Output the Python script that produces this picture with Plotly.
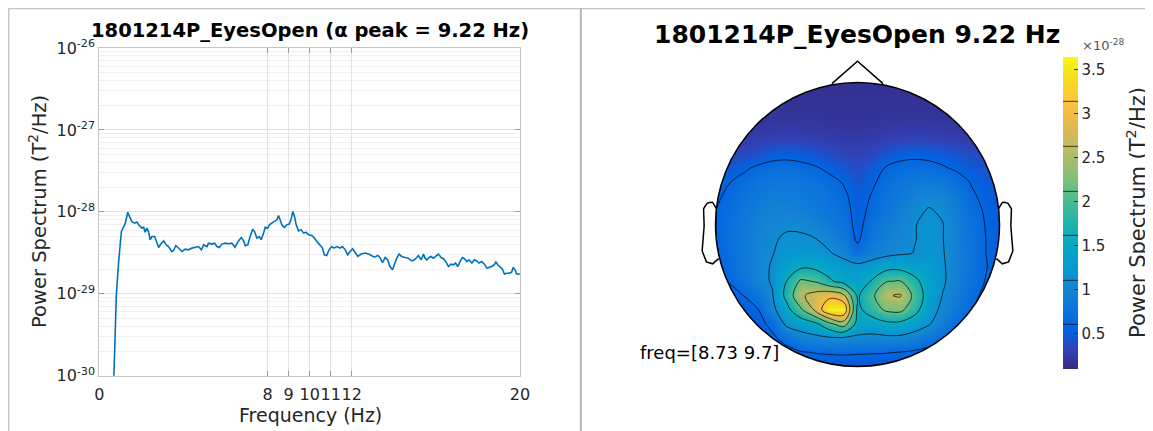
import numpy as np
import plotly.graph_objects as go

# ---------------- data: power spectrum (left panel) ----------------
freq_hz = [0.66, 0.81, 0.92, 1.05, 1.16, 1.24, 1.35, 1.47, 1.55, 1.68, 1.79, 1.87, 2.03, 2.11, 2.18,
           2.26, 2.34, 2.42, 2.50, 2.63, 2.74, 2.82, 2.95, 3.06, 3.18, 3.29, 3.45, 3.53, 3.64, 3.77,
           3.93, 4.09, 4.24, 4.40, 4.56, 4.72, 4.85, 4.96, 5.12, 5.19, 5.35, 5.48, 5.59, 5.70, 5.83,
           5.99, 6.14, 6.30, 6.45, 6.60, 6.75, 6.86, 6.94, 7.06, 7.17, 7.29, 7.38, 7.49, 7.60, 7.70,
           7.81, 7.89, 8.00, 8.09, 8.20, 8.33, 8.44, 8.52, 8.60, 8.68, 8.80, 8.91, 9.03, 9.11, 9.20,
           9.28, 9.36, 9.47, 9.60, 9.71, 9.82, 9.95, 10.10, 10.23, 10.34, 10.50, 10.61, 10.70, 10.81,
           10.92, 11.05, 11.16, 11.29, 11.45, 11.56, 11.69, 11.81, 11.92, 12.04, 12.13, 12.29, 12.45,
           12.64, 12.80, 12.96, 13.08, 13.24, 13.35, 13.46, 13.59, 13.71, 13.82, 13.94, 14.03, 14.14,
           14.25, 14.38, 14.54, 14.69, 14.85, 14.98, 15.09, 15.17, 15.30, 15.41, 15.49, 15.57, 15.68,
           15.77, 15.88, 16.00, 16.12, 16.25, 16.36, 16.47, 16.60, 16.72, 16.83, 16.94, 17.04, 17.15,
           17.26, 17.36, 17.47, 17.58, 17.71, 17.83, 17.94, 18.05, 18.18, 18.31, 18.42, 18.53, 18.65,
           18.78, 18.85, 18.94, 19.05, 19.16, 19.26, 19.37, 19.48, 19.60, 19.68, 19.76, 19.84, 19.92,
           20.00]
# power in units of 1e-29 T^2/Hz
psd_e29 = [0.05, 0.97, 2.47, 5.75, 6.62, 7.27, 9.9, 8.5, 7.6, 7.27, 7.49, 6.94, 6.32, 6.5, 5.65,
           6.32, 5.75, 4.56, 5.0, 5.0, 4.15, 3.67, 4.15, 4.43, 3.96, 3.77, 3.28, 3.35, 3.88, 3.61,
           3.28, 3.50, 3.44, 3.61, 3.67, 3.77, 3.44, 3.96, 3.77, 4.15, 4.04, 4.15, 3.77, 3.67, 4.04,
           4.15, 4.08, 4.15, 3.70, 4.36, 4.85, 4.45, 3.85, 3.96, 5.0, 6.15, 5.75, 4.78, 5.0, 4.56,
           5.5, 6.5, 6.32, 6.94, 7.27, 7.6, 7.99, 9.0, 7.6, 6.94, 6.44, 6.94, 7.1, 7.99, 10.1,
           8.77, 6.94, 5.86, 6.03, 5.5, 5.65, 5.24, 5.15, 4.78, 4.36, 3.96, 3.61, 2.98, 2.93,
           3.44, 3.77, 3.61, 3.77, 3.61, 3.77, 3.44, 2.98, 3.28, 3.54, 3.28, 2.86, 3.05,
           3.14, 3.05, 2.93, 2.80, 2.93, 2.75, 2.40, 2.77, 2.60, 2.15, 1.96, 2.26, 2.72,
           3.05, 2.85, 2.77, 2.72, 2.52, 2.60, 2.77, 2.93, 2.60, 3.05, 2.72, 2.60, 2.77,
           2.85, 2.72, 2.85, 3.05, 2.77, 2.68, 2.47, 2.15, 2.30, 2.26, 2.37, 2.15, 2.47,
           2.77, 2.68, 2.47, 2.60, 2.37, 2.60, 2.52, 2.37, 2.47, 2.30, 2.06, 2.10, 2.15,
           2.26, 2.47, 2.26, 2.10, 2.01, 1.74, 1.78, 1.78, 1.83, 2.10, 1.96, 1.74, 1.74,
           1.74]

x_tick_vals = [0, 8, 9, 10, 11, 12, 20]
y_decades = [-30, -29, -28, -27, -26]
minor_mult = [2, 3, 4, 5, 6, 7, 8, 9]

# ---------------- data: topography (right panel), units 1e-28 T^2/Hz ----------------
topo_u = [-1.0, -0.9, -0.8, -0.7, -0.6, -0.5, -0.4, -0.3, -0.2, -0.1, 0.0,
          0.1, 0.2, 0.3, 0.4, 0.5, 0.6, 0.7, 0.8, 0.9, 1.0]
topo_v_top_down = [1.0, 0.9, 0.8, 0.7, 0.6, 0.5, 0.4, 0.3, 0.2, 0.1, 0.0,
                   -0.1, -0.2, -0.3, -0.4, -0.5, -0.6, -0.7, -0.8, -0.9, -1.0]
topo_rows = [
    [0.16, 0.16, 0.16, 0.16, 0.16, 0.16, 0.16, 0.16, 0.16, 0.16, 0.16, 0.16, 0.16, 0.16, 0.16, 0.16, 0.16, 0.16, 0.16, 0.16, 0.16],
    [0.17, 0.17, 0.17, 0.17, 0.17, 0.17, 0.17, 0.17, 0.17, 0.17, 0.17, 0.17, 0.17, 0.17, 0.17, 0.17, 0.17, 0.17, 0.17, 0.17, 0.17],
    [0.18, 0.18, 0.18, 0.18, 0.18, 0.18, 0.18, 0.18, 0.18, 0.18, 0.18, 0.18, 0.18, 0.18, 0.18, 0.18, 0.18, 0.18, 0.18, 0.18, 0.18],
    [0.20, 0.20, 0.20, 0.21, 0.22, 0.23, 0.22, 0.22, 0.21, 0.20, 0.20, 0.21, 0.22, 0.23, 0.23, 0.23, 0.22, 0.21, 0.20, 0.20, 0.20],
    [0.24, 0.24, 0.25, 0.28, 0.31, 0.32, 0.31, 0.29, 0.27, 0.25, 0.24, 0.26, 0.29, 0.32, 0.33, 0.32, 0.30, 0.28, 0.26, 0.25, 0.24],
    [0.30, 0.32, 0.36, 0.42, 0.50, 0.52, 0.50, 0.45, 0.38, 0.33, 0.30, 0.35, 0.45, 0.52, 0.54, 0.53, 0.50, 0.44, 0.38, 0.33, 0.30],
    [0.40, 0.46, 0.56, 0.65, 0.70, 0.71, 0.68, 0.63, 0.55, 0.45, 0.38, 0.48, 0.62, 0.68, 0.70, 0.68, 0.63, 0.56, 0.48, 0.42, 0.38],
    [0.50, 0.60, 0.69, 0.77, 0.82, 0.83, 0.80, 0.75, 0.68, 0.59, 0.45, 0.56, 0.70, 0.78, 0.84, 0.86, 0.82, 0.72, 0.59, 0.50, 0.45],
    [0.56, 0.66, 0.76, 0.85, 0.90, 0.90, 0.87, 0.82, 0.75, 0.66, 0.50, 0.62, 0.76, 0.86, 0.96, 1.04, 1.00, 0.84, 0.65, 0.54, 0.48],
    [0.60, 0.70, 0.80, 0.90, 0.96, 0.97, 0.93, 0.86, 0.78, 0.70, 0.52, 0.66, 0.80, 0.92, 1.04, 1.13, 1.08, 0.90, 0.70, 0.58, 0.50],
    [0.60, 0.72, 0.84, 0.95, 1.03, 1.07, 1.05, 0.98, 0.88, 0.76, 0.52, 0.74, 0.88, 1.00, 1.10, 1.17, 1.12, 0.94, 0.74, 0.60, 0.52],
    [0.60, 0.72, 0.86, 0.98, 1.08, 1.15, 1.16, 1.12, 1.00, 0.82, 0.56, 0.80, 0.94, 1.04, 1.10, 1.18, 1.12, 0.95, 0.76, 0.61, 0.52],
    [0.58, 0.70, 0.85, 1.00, 1.10, 1.20, 1.25, 1.22, 1.14, 1.00, 0.70, 0.92, 1.00, 1.06, 1.12, 1.20, 1.13, 0.96, 0.77, 0.61, 0.52],
    [0.56, 0.68, 0.84, 1.00, 1.14, 1.35, 1.55, 1.52, 1.40, 1.28, 1.25, 1.30, 1.46, 1.48, 1.38, 1.28, 1.15, 0.96, 0.77, 0.62, 0.52],
    [0.55, 0.63, 0.78, 0.97, 1.15, 1.62, 2.20, 2.10, 1.70, 1.45, 1.35, 1.65, 2.10, 2.15, 1.75, 1.38, 1.16, 0.94, 0.74, 0.60, 0.50],
    [0.45, 0.50, 0.61, 0.80, 1.08, 1.75, 2.55, 2.80, 3.00, 2.75, 1.55, 2.00, 2.58, 2.68, 2.00, 1.40, 1.10, 0.90, 0.68, 0.55, 0.50],
    [0.42, 0.46, 0.52, 0.60, 1.00, 1.45, 2.05, 2.70, 3.60, 3.62, 1.50, 1.85, 2.20, 2.25, 1.80, 1.30, 1.02, 0.82, 0.62, 0.50, 0.45],
    [0.40, 0.42, 0.46, 0.52, 0.68, 1.20, 1.30, 1.50, 2.00, 2.40, 1.45, 1.38, 1.50, 1.50, 1.35, 1.15, 0.90, 0.66, 0.55, 0.47, 0.43],
    [0.40, 0.40, 0.42, 0.46, 0.55, 0.72, 0.95, 1.00, 1.05, 1.06, 1.02, 1.00, 1.02, 1.02, 0.92, 0.80, 0.68, 0.56, 0.48, 0.44, 0.42],
    [0.40, 0.40, 0.41, 0.43, 0.46, 0.50, 0.58, 0.62, 0.64, 0.65, 0.64, 0.63, 0.62, 0.60, 0.56, 0.50, 0.46, 0.44, 0.42, 0.41, 0.40],
    [0.42, 0.42, 0.42, 0.42, 0.42, 0.42, 0.42, 0.42, 0.42, 0.42, 0.42, 0.42, 0.42, 0.42, 0.42, 0.42, 0.42, 0.42, 0.42, 0.42, 0.42],
]
topo_zmin, topo_zmax = 0.1, 3.64
contour_start, contour_step, contour_end = 0.606, 0.506, 3.2
cbar_ticks = [0.5, 1, 1.5, 2, 2.5, 3, 3.5]
cbar_ticktext = ["0.5", "1", "1.5", "2", "2.5", "3", "3.5"]

# head outline geometry (FieldTrip style, radius 1)
ear_x = [0.994, 1.020, 1.036, 1.060, 1.084, 1.080, 1.094, 1.064, 1.020, 0.978]
ear_y = [0.111, 0.155, 0.157, 0.149, 0.111, -0.011, -0.186, -0.263, -0.277, -0.240]
nose_x = [0.18, 0.0, -0.18]
nose_y = [0.992, 1.15, 0.992]

# parula colormap samples
parula = [
    (0.2081, 0.1663, 0.5292), (0.1959, 0.2645, 0.7279), (0.0117, 0.3875, 0.8820),
    (0.0498, 0.4586, 0.8641), (0.0793, 0.5200, 0.8312), (0.0343, 0.5966, 0.8199),
    (0.0228, 0.6535, 0.7768), (0.0843, 0.6928, 0.7062), (0.2178, 0.7250, 0.6193),
    (0.3953, 0.7459, 0.5244), (0.5709, 0.7485, 0.4494), (0.7184, 0.7411, 0.3905),
    (0.8507, 0.7299, 0.3360), (0.9739, 0.7314, 0.2666), (0.9880, 0.8066, 0.1794),
    (0.9589, 0.8949, 0.1132), (0.9763, 0.9831, 0.0538)]
parula_pos = [0, 4, 8, 12, 16, 20, 24, 28, 32, 36, 40, 44, 48, 52, 56, 60, 63]
colorscale = [[p / 63.0, "rgb(%d,%d,%d)" % (r * 255, g * 255, b * 255)]
              for p, (r, g, b) in zip(parula_pos, parula)]

# The page body has an 8px margin, so the figure starts at screen (8, 8).
OFF = 8
W, H = 1153 - OFF, 431 - OFF
FONT = "DejaVu Sans"
TXT = "#262626"


def px(x):
    return (x - OFF) / W


def py(y):
    return 1 - (y - OFF) / H


fig = go.Figure()

# ---- left: spectrum ----
fig.add_trace(go.Scatter(
    x=freq_hz, y=[p * 1e-29 for p in psd_e29], mode="lines",
    line=dict(color="#0072BD", width=1.6), xaxis="x", yaxis="y",
    showlegend=False, hoverinfo="skip"))

# ---- right: topography ----
z_bottom_up = topo_rows[::-1]
v_bottom_up = topo_v_top_down[::-1]
fig.add_trace(go.Contour(
    x=topo_u, y=v_bottom_up, z=z_bottom_up, xaxis="x2", yaxis="y2",
    zmin=topo_zmin, zmax=topo_zmax, colorscale=colorscale, autocontour=False,
    contours=dict(start=contour_start, end=contour_end, size=contour_step,
                  coloring="heatmap", showlines=True),
    line=dict(color="black", width=0.7, smoothing=1.0),
    hoverinfo="skip", showscale=True,
    colorbar=dict(x=px(1062.7), xanchor="left", xpad=0, y=py(213.2), yanchor="middle", ypad=0,
                  len=(369 - 57.3) / H, lenmode="fraction", thickness=14.5, thicknessmode="pixels",
                  outlinewidth=0, tickvals=cbar_ticks, ticktext=cbar_ticktext,
                  ticks="inside", ticklen=4, tickcolor="#333333",
                  tickfont=dict(family=FONT, size=15, color=TXT))))

# grid / minor ticks for log axis
major_vals = [10.0 ** d for d in y_decades]
minor_vals = [m * 10.0 ** d for d in y_decades[:-1] for m in minor_mult]

axis_line = "#c4c4c4"
fig.update_layout(
    width=W, height=H, margin=dict(l=0, r=0, t=0, b=0, autoexpand=False),
    paper_bgcolor="white", plot_bgcolor="white", showlegend=False,
    xaxis=dict(domain=[px(99.3), px(520)], range=[0, 20], tickvals=x_tick_vals,
               ticktext=[str(v) for v in x_tick_vals], tickangle=0, automargin=False,
               showgrid=True, gridcolor="#e2e2e2",
               gridwidth=1, zeroline=False, showline=True, linecolor=axis_line, linewidth=1,
               mirror="ticks", ticks="inside", ticklen=5, tickcolor="#9a9a9a",
               tickfont=dict(family=FONT, size=16, color=TXT), ticklabelstandoff=4),
    yaxis=dict(domain=[py(375.7), py(48)], type="log", range=[-30, -26], tickvals=major_vals,
               ticktext=["10<sup>%d</sup>" % d for d in y_decades], showgrid=True, automargin=False,
               gridcolor="#e2e2e2", zeroline=False, showline=True, linecolor=axis_line,
               linewidth=1, mirror="ticks", ticks="inside", ticklen=5, tickcolor="#9a9a9a",
               tickfont=dict(family=FONT, size=16, color=TXT),
               minor=dict(tickvals=minor_vals, showgrid=True, gridcolor="#f1f1f1", ticks="")),
    xaxis2=dict(domain=[px(857.5 - 170.4), px(857.5 + 170.4)], range=[-1.2, 1.2], visible=False,
                fixedrange=True, automargin=False),
    yaxis2=dict(domain=[py(402), py(47)], range=[-1.25, 1.25], visible=False, fixedrange=True,
                automargin=False),
)

# ---- shapes: mask outside head, head outline, nose, ears, panel frames ----
ang = np.linspace(0, -2 * np.pi, 241)
circle_pts = " ".join("L%.4f,%.4f" % (np.cos(a), np.sin(a)) for a in ang[1:])
mask_path = ("M-1.12,-1.12 L1.12,-1.12 L1.12,1.12 L-1.12,1.12 Z "
             "M1,0 " + circle_pts + " Z")
shapes = [
    dict(type="path", path=mask_path, xref="x2", yref="y2", fillcolor="white",
         line=dict(width=0), fillrule="evenodd", layer="above"),
    dict(type="circle", x0=-1, x1=1, y0=-1, y1=1, xref="x2", yref="y2",
         line=dict(color="black", width=1.5), layer="above"),
    dict(type="path", xref="x2", yref="y2", layer="above",
         path="M%.3f,%.3f " % (nose_x[0], nose_y[0]) +
              " ".join("L%.3f,%.3f" % (a, b) for a, b in zip(nose_x[1:], nose_y[1:])),
         line=dict(color="black", width=1.5)),
]
for sgn in (1, -1):
    ear_path = "M%.3f,%.3f " % (sgn * ear_x[0], ear_y[0]) + " ".join(
        "L%.3f,%.3f" % (sgn * a, b) for a, b in zip(ear_x[1:], ear_y[1:]))
    shapes.append(dict(type="path", xref="x2", yref="y2", layer="above", path=ear_path,
                       line=dict(color="black", width=1.5)))
frame = "#c3c3c3"
shapes += [
    dict(type="line", xref="paper", yref="paper", x0=px(8.6), x1=1, y0=py(8.6), y1=py(8.6),
         line=dict(color=frame, width=1.5)),
    dict(type="line", xref="paper", yref="paper", x0=px(8.6), x1=px(8.6), y0=py(8.6), y1=0,
         line=dict(color=frame, width=1.5)),
    dict(type="line", xref="paper", yref="paper", x0=px(580.8), x1=px(580.8), y0=py(8.6), y1=0,
         line=dict(color="#b5b5b5", width=2)),
]
fig.update_layout(shapes=shapes)

# ---- text ----
ann = [
    dict(text="1801214P_EyesOpen (α peak = 9.22 Hz)", x=px(310), y=py(31),
         font=dict(family=FONT, size=19.5, color="black", weight="bold")),
    dict(text="1801214P_EyesOpen 9.22 Hz", x=px(857), y=py(35),
         font=dict(family=FONT, size=25, color="black", weight="bold")),
    dict(text="Frequency (Hz)", x=px(310), y=py(415),
         font=dict(family=FONT, size=19, color=TXT)),
    dict(text="Power Spectrum (T<sup>2</sup>/Hz)", x=px(38), y=py(212), textangle=-90,
         font=dict(family=FONT, size=19.5, color=TXT)),
    dict(text="Power Spectrum (T<sup>2</sup>/Hz)", x=px(1136), y=py(213), textangle=-90,
         font=dict(family=FONT, size=21, color=TXT)),
    dict(text="×10<sup>-28</sup>", x=px(1080), y=py(45), xanchor="left",
         font=dict(family=FONT, size=13, color="#555555")),
    dict(text="freq=[8.73 9.7]", x=px(638), y=py(352), xanchor="left",
         font=dict(family=FONT, size=18, color="black")),
]
for a in ann:
    a.setdefault("xanchor", "center")
    a.update(xref="paper", yref="paper", yanchor="middle", showarrow=False)
fig.update_layout(annotations=ann)

fig.write_html("out.html")
